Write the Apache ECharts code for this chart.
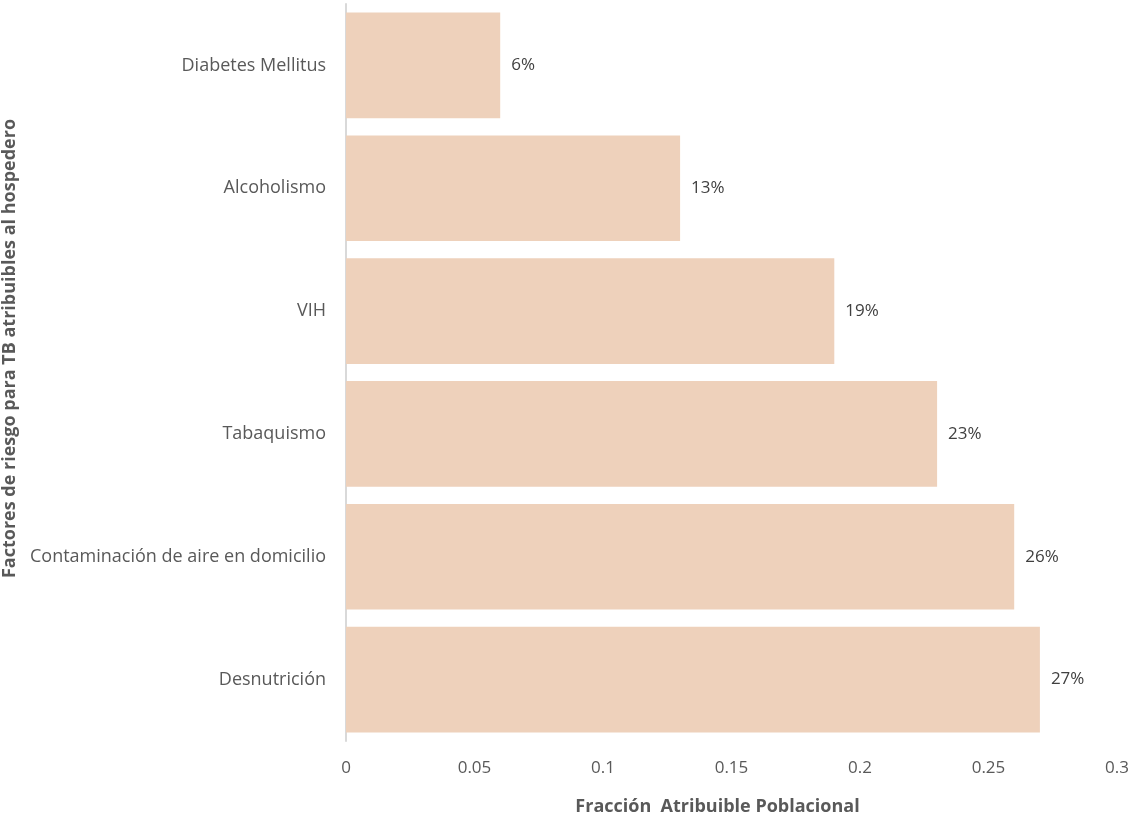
<!DOCTYPE html>
<html>
<head>
<meta charset="utf-8">
<script src="https://cdn.jsdelivr.net/npm/echarts@6/dist/echarts.min.js"></script>
<style>
  html, body { margin: 0; padding: 0; background: #fff; }
  #chart { width: 1132px; height: 813px; }
</style>
</head>
<body>
<div id="chart"></div>
<script>
// categories listed bottom to top (ECharts category y axis starts at bottom)
const categories = ['Desnutrición', 'Contaminación de aire en domicilio', 'Tabaquismo', 'VIH', 'Alcoholismo', 'Diabetes Mellitus'];
const values = [0.27, 0.26, 0.23, 0.19, 0.13, 0.06];
const xTicks = [0, 0.05, 0.1, 0.15, 0.2, 0.25, 0.3];

const font = '"Open Sans", "Liberation Sans", sans-serif';
const chart = echarts.init(document.getElementById('chart'), null, { renderer: 'canvas' });

const option = {
  animation: false,
  textStyle: { fontFamily: font },
  grid: { left: 346, right: 15, top: 4, bottom: 72, outerBoundsMode: 'none', containLabel: false },
  xAxis: {
    type: 'value',
    min: xTicks[0],
    max: xTicks[xTicks.length - 1],
    interval: 0.05,
    name: 'Fracción  Atribuible Poblacional',
    nameLocation: 'middle',
    nameGap: 57,
    nameTextStyle: { fontFamily: font, fontSize: 18, fontWeight: 'bold', color: '#595959', padding: [0, 28, 0, 0] },
    axisLine: { show: false },
    axisTick: { show: false },
    splitLine: { show: false },
    axisLabel: {
      margin: 19,
      fontFamily: font,
      fontSize: 17,
      color: '#595959',
      formatter: v => String(+v.toFixed(2))
    }
  },
  yAxis: {
    type: 'category',
    data: categories,
    name: 'Factores de riesgo para TB atribuibles al hospedero',
    nameLocation: 'middle',
    nameGap: 320,
    nameRotate: 90,
    nameTextStyle: { fontFamily: font, fontSize: 18, fontWeight: 'bold', color: '#595959', padding: [0, 0, 0, 48] },
    axisLine: { show: true, lineStyle: { color: '#d9d9d9', width: 2 } },
    axisTick: { show: false },
    axisLabel: { margin: 20, fontFamily: font, fontSize: 18, color: '#595959' }
  },
  series: [{
    type: 'bar',
    data: values,
    barCategoryGap: '14%',
    itemStyle: { color: '#EED1BB' },
    label: {
      show: true,
      position: 'right',
      distance: 11,
      fontFamily: font,
      fontSize: 17,
      color: '#404040',
      formatter: p => Math.round(p.value * 100) + '%'
    }
  }]
};
chart.setOption(option);
</script>
</body>
</html>
